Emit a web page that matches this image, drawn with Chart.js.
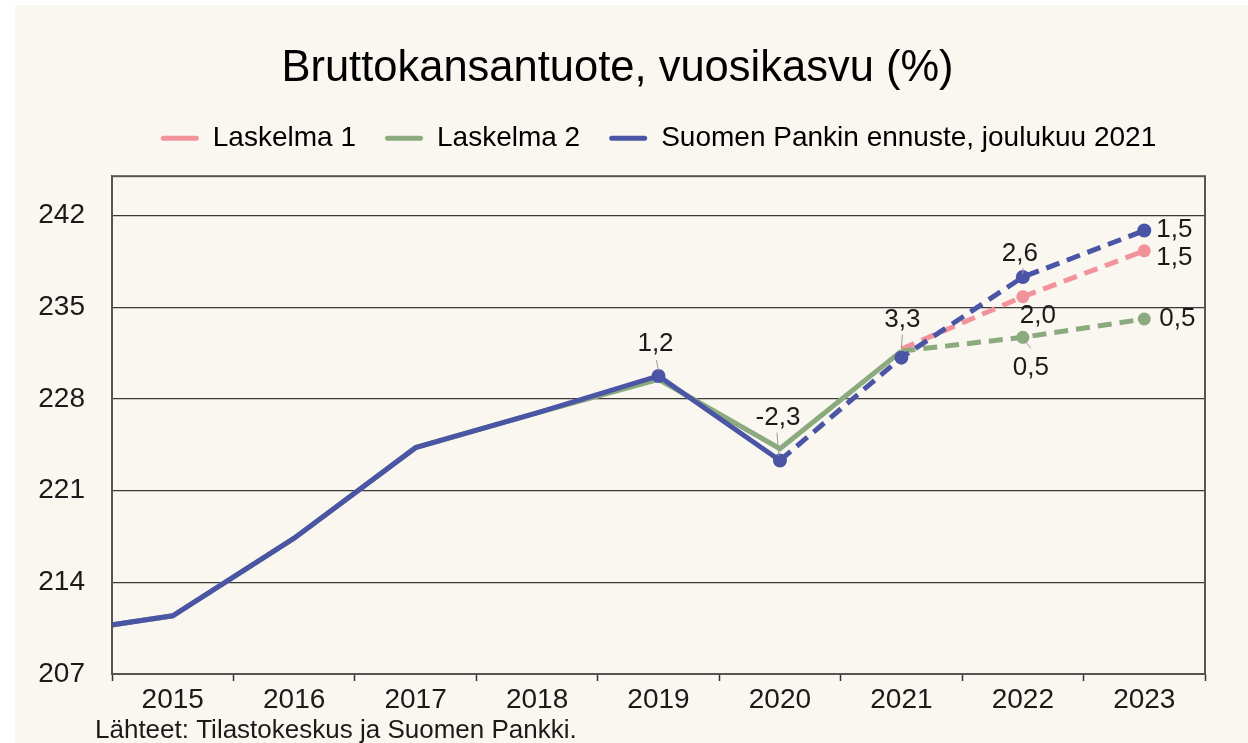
<!DOCTYPE html>
<html>
<head>
<meta charset="utf-8">
<script src="https://cdn.jsdelivr.net/npm/chart.js@4.4.0/dist/chart.umd.min.js"></script>
<style>
  html, body { margin: 0; padding: 0; background: #ffffff; }
  #wrap { position: absolute; left: 15px; top: 5px; width: 1233px; height: 738px; background: #faf6f0; }
</style>
</head>
<body>
<div id="wrap"><canvas id="bkt" width="1233" height="738"></canvas></div>
<script>
// BKT-taso ja vuosikasvu
const years = [2014, 2015, 2016, 2017, 2018, 2019, 2020, 2021, 2022, 2023];
const laskelma1 = [null, null, null, null, null, null, null, 231.8, 235.8, 239.3];
const laskelma2 = [210.06, 211.44, 217.37, 224.28, 226.94, 229.5, 224.2, 231.65, 232.7, 234.1];
const ennuste   = [210.06, 211.44, 217.37, 224.28, 226.94, 229.75, 223.3, 231.15, 237.3, 240.85];

// kasvuluvut pisteiden vieressä
const labels1 = [null, null, null, null, null, null, null, null, '2,0', '1,5'];
const labels2 = [null, null, null, null, null, null, null, null, '0,5', '0,5'];
const labelsE = [null, null, null, null, null, '1,2', '-2,3', '3,3', '2,6', '1,5'];

const yTicks = [207, 214, 221, 228, 235, 242];
const xTicks = [];
years.forEach(y => { if (y > years[0]) xTicks.push(y); xTicks.push(y + 0.5); });

const PINK = '#f2929a';
const GREEN = '#8baa7d';
const BLUE = '#4b55a6';
const INK = '#1a1a1a';
const FONT = '"Liberation Sans", Arial, sans-serif';

Chart.defaults.font.family = FONT;
Chart.defaults.color = INK;

const toXY = arr => years.map((x, i) => ({ x: x, y: arr[i] }));

// label offsets: [dx, dy, align, leader]
const labelPos = {
  '2-5': [-3, -32, 'center', [-2, -16, 0, -5]],
  '2-6': [-2, -43, 'center', [-3, -28, -1, -4]],
  '2-7': [1, -38, 'center', [1, -23, 0, -9]],
  '2-8': [-3, -23, 'center', [0, -9, 0, -3]],
  '2-9': [12, -1, 'left', null],
  '0-8': [15, 19, 'center', null],
  '0-9': [12, 7, 'left', null],
  '1-8': [8, 30, 'center', [1, 2, 8, 11]],
  '1-9': [15, 0, 'left', null]
};
const dsLabels = [labels1, labels2, labelsE];

const extras = {
  id: 'extras',
  afterDatasetsDraw(chart) {
    const { ctx, chartArea: a } = chart;
    ctx.save();
    ctx.strokeStyle = '#555555';
    ctx.lineWidth = 2;
    ctx.strokeRect(a.left, a.top, a.right - a.left, a.bottom - a.top);

    dsLabels.forEach((arr, d) => {
      const meta = chart.getDatasetMeta(d);
      arr.forEach((txt, i) => {
        if (!txt) return;
        const pt = meta.data[i];
        const p = labelPos[d + '-' + i];
        if (p[3]) {
          ctx.strokeStyle = '#9a9a9a';
          ctx.lineWidth = 1;
          ctx.beginPath();
          ctx.moveTo(pt.x + p[3][0], pt.y + p[3][1]);
          ctx.lineTo(pt.x + p[3][2], pt.y + p[3][3]);
          ctx.stroke();
        }
        ctx.fillStyle = INK;
        ctx.font = '26px ' + FONT;
        ctx.textAlign = p[2];
        ctx.textBaseline = 'middle';
        ctx.fillText(txt, pt.x + p[0], pt.y + p[1]);
      });
    });

    ctx.font = '26px ' + FONT;
    ctx.textAlign = 'left';
    ctx.textBaseline = 'middle';
    ctx.fillStyle = INK;
    ctx.fillText('Lähteet: Tilastokeskus ja Suomen Pankki.', 80, 726);
    ctx.restore();
  }
};

new Chart(document.getElementById('bkt'), {
  type: 'line',
  data: {
    datasets: [
      {
        label: 'Laskelma 1',
        data: toXY(laskelma1),
        borderColor: PINK,
        backgroundColor: PINK,
        borderWidth: 5,
        borderDash: [14, 8],
        pointRadius: c => c.dataIndex >= 8 ? 6.5 : 0,
        pointBorderWidth: 0,
        clip: 0,
        order: 2
      },
      {
        label: 'Laskelma 2',
        data: toXY(laskelma2),
        borderColor: GREEN,
        backgroundColor: GREEN,
        borderWidth: 5,
        segment: { borderDash: c => c.p0DataIndex >= 7 ? [14, 8] : undefined },
        pointRadius: c => c.dataIndex >= 8 ? 6.5 : 0,
        pointBorderWidth: 0,
        clip: 0,
        order: 1
      },
      {
        label: 'Suomen Pankin ennuste, joulukuu 2021',
        data: toXY(ennuste),
        borderColor: BLUE,
        backgroundColor: BLUE,
        borderWidth: 5,
        segment: { borderDash: c => c.p0DataIndex >= 6 ? [14, 8] : undefined },
        pointRadius: c => c.dataIndex >= 5 ? 7 : 0,
        pointBorderWidth: 0,
        clip: 0,
        order: 0
      }
    ]
  },
  options: {
    responsive: false,
    animation: false,
    layout: { padding: { left: 15, right: 43, top: 0, bottom: 0 } },
    plugins: {
      title: {
        display: true,
        text: 'Bruttokansantuote, vuosikasvu (%)',
        color: '#000000',
        font: { size: 43.5, weight: 'normal', lineHeight: 1.2 },
        padding: { top: 38, bottom: 0 }
      },
      subtitle: {
        display: true,
        text: '',
        weight: 500,
        font: { size: 14, lineHeight: 1 },
        padding: 0
      },
      legend: {
        display: true,
        fullSize: false,
        labels: {
          font: { size: 28 },
          color: INK,
          boxWidth: 38,
          boxHeight: 5,
          padding: 29,
          generateLabels: chart => chart.data.datasets.map((ds, i) => ({
            text: ds.label,
            fillStyle: ds.borderColor,
            strokeStyle: ds.borderColor,
            lineWidth: 0,
            borderRadius: 2.5,
            datasetIndex: i,
            hidden: false
          }))
        }
      },
      tooltip: { enabled: false }
    },
    scales: {
      x: {
        type: 'linear',
        min: 2014.5,
        max: 2023.5,
        afterBuildTicks: s => { s.ticks = xTicks.map(v => ({ value: v })); },
        afterFit: s => { s.height = 69; },
        ticks: {
          autoSkip: false,
          maxRotation: 0,
          padding: 2,
          font: { size: 28 },
          color: INK,
          callback: v => Number.isInteger(v) ? String(v) : ''
        },
        grid: {
          drawOnChartArea: false,
          tickLength: 7,
          tickWidth: 1.5,
          tickColor: c => (c.tick && Number.isInteger(c.tick.value)) ? 'rgba(0,0,0,0)' : '#333333'
        },
        border: { color: '#333333', width: 1.5 }
      },
      y: {
        min: 207,
        max: 245,
        afterBuildTicks: s => { s.ticks = yTicks.map(v => ({ value: v })); },
        afterFit: s => { s.width = 82; },
        ticks: { padding: 27, font: { size: 28 }, color: INK },
        grid: { color: '#3a3a3a', lineWidth: 1.3, drawTicks: false },
        border: { color: '#333333', width: 1.5 }
      }
    }
  },
  plugins: [extras]
});
</script>
</body>
</html>
